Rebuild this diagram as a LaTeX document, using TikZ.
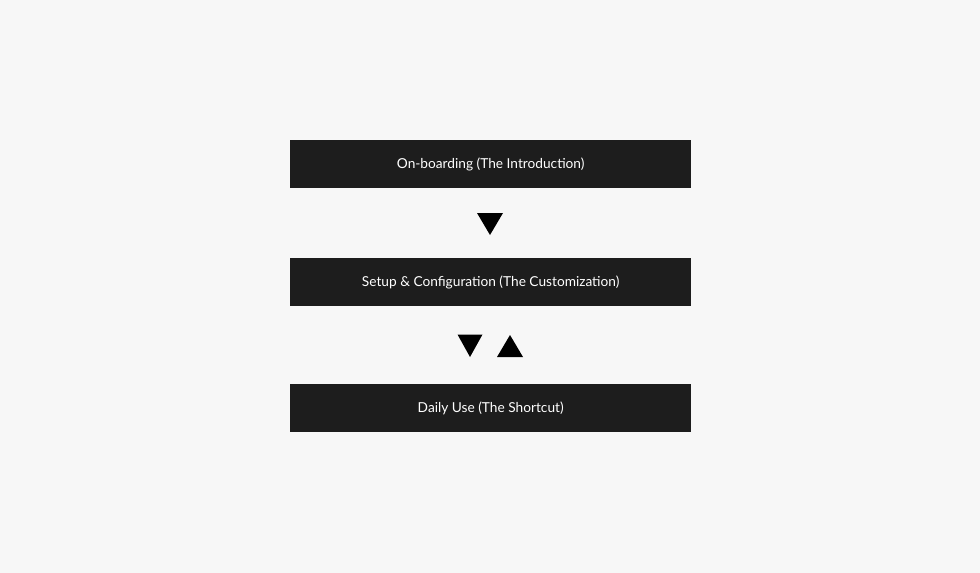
\documentclass[tikz,border=0pt]{standalone}
\usepackage{fontspec}
\setmainfont{Lato}
\definecolor{bg}{HTML}{F7F7F7}
\definecolor{boxc}{HTML}{1D1D1D}
\begin{document}
\begin{tikzpicture}[x=1pt,y=-1pt,
  stage/.style={fill=boxc,text=white,minimum width=401pt,minimum height=48pt,inner sep=0pt,font=\fontsize{13.7}{15}\selectfont,anchor=north west},
  tri/.style={fill=black,draw=none}]
\fill[bg] (0,0) rectangle (980,573);
\useasboundingbox (0,0) rectangle (980,573);
\node[stage] (s1) at (290,140) {On-boarding (The Introduction)};
\node[stage] (s2) at (290,258) {Setup \& Configuration (The Customization)};
\node[stage] (s3) at (290,384) {Daily Use (The Shortcut)};
\coordinate (t1) at (490,224);
\coordinate (t2) at (470,346);
\coordinate (t3) at (510,346);
\fill[tri] ([shift={(-13,-11)}]t1) -- ([shift={(13,-11)}]t1) -- ([shift={(0,11)}]t1) -- cycle;
\fill[tri] ([shift={(-12.5,-11.5)}]t2) -- ([shift={(12.5,-11.5)}]t2) -- ([shift={(0,11)}]t2) -- cycle;
\fill[tri] ([shift={(-13,11)}]t3) -- ([shift={(13,11)}]t3) -- ([shift={(0,-11)}]t3) -- cycle;
\end{tikzpicture}
\end{document}
